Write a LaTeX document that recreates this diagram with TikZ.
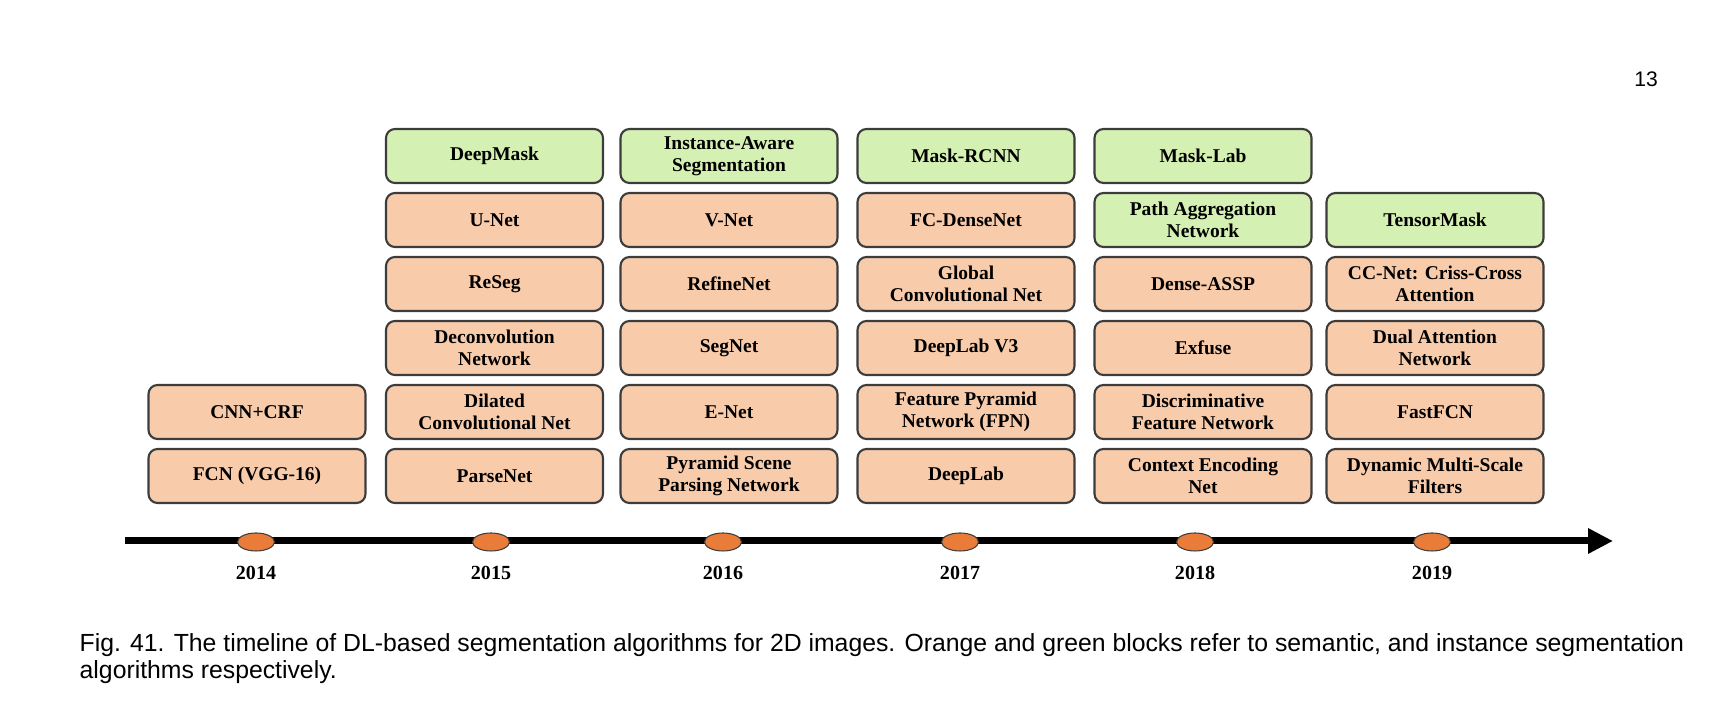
\documentclass[tikz,border=0pt]{standalone}
\usepackage{fontspec}
\setmainfont{Liberation Serif}
\newfontfamily\capfont{Liberation Sans}
\usetikzlibrary{arrows.meta,shapes.geometric}
\definecolor{semorange}{RGB}{248,203,170}
\definecolor{insgreen}{RGB}{212,240,178}
\definecolor{dotorange}{RGB}{234,124,58}
\definecolor{boxline}{RGB}{60,60,60}
\begin{document}
\begin{tikzpicture}[
	algo/.style={rectangle,rounded corners=0.09cm,draw=boxline,line width=0.6pt,minimum width=2.17cm,minimum height=0.54cm,inner sep=0pt,align=center,font=\fontsize{5.55}{6.15}\selectfont\bfseries},
	sem/.style={algo,fill=semorange},
	ins/.style={algo,fill=insgreen},
	yeardot/.style={ellipse,fill=dotorange,draw=boxline,line width=0.3pt,inner sep=0pt,minimum width=0.37cm,minimum height=0.18cm},
	every label/.style={inner sep=0pt,font=\fontsize{5.7}{6.5}\selectfont\bfseries},
	label distance=0.14cm]
	\useasboundingbox (0,0) rectangle (17.30,7.14);
	\node[font=\capfont\fontsize{6}{7}\selectfont,inner sep=0pt](page) at (16.46,6.345){13};

	\node[sem](fcn) at (2.57,2.38){FCN (VGG-16)};
	\node[sem](cnncrf) at (2.57,3.02){CNN+CRF};

	\node[sem](parsenet) at (4.945,2.38){ParseNet};
	\node[sem](dilated) at (4.945,3.02){Dilated\\Convolutional Net};
	\node[sem](deconv) at (4.945,3.66){Deconvolution\\Network};
	\node[sem](reseg) at (4.945,4.30){ReSeg};
	\node[sem](unet) at (4.945,4.94){U-Net};
	\node[ins](deepmask) at (4.945,5.58){DeepMask};

	\node[sem](pspnet) at (7.29,2.38){Pyramid Scene\\Parsing Network};
	\node[sem](enet) at (7.29,3.02){E-Net};
	\node[sem](segnet) at (7.29,3.66){SegNet};
	\node[sem](refinenet) at (7.29,4.30){RefineNet};
	\node[sem](vnet) at (7.29,4.94){V-Net};
	\node[ins](instaware) at (7.29,5.58){Instance-Aware\\Segmentation};

	\node[sem](deeplab) at (9.66,2.38){DeepLab};
	\node[sem](fpn) at (9.66,3.02){Feature Pyramid\\Network (FPN)};
	\node[sem](deeplabv3) at (9.66,3.66){DeepLab V3};
	\node[sem](gcn) at (9.66,4.30){Global\\Convolutional Net};
	\node[sem](fcdense) at (9.66,4.94){FC-DenseNet};
	\node[ins](maskrcnn) at (9.66,5.58){Mask-RCNN};

	\node[sem](encnet) at (12.03,2.38){Context Encoding\\Net};
	\node[sem](dfn) at (12.03,3.02){Discriminative\\Feature Network};
	\node[sem](exfuse) at (12.03,3.66){Exfuse};
	\node[sem](denseassp) at (12.03,4.30){Dense-ASSP};
	\node[ins](panet) at (12.03,4.94){Path Aggregation\\Network};
	\node[ins](masklab) at (12.03,5.58){Mask-Lab};

	\node[sem](dmnet) at (14.35,2.38){Dynamic Multi-Scale\\Filters};
	\node[sem](fastfcn) at (14.35,3.02){FastFCN};
	\node[sem](danet) at (14.35,3.66){Dual Attention\\Network};
	\node[sem](ccnet) at (14.35,4.30){CC-Net: Criss-Cross\\Attention};
	\node[ins](tensormask) at (14.35,4.94){TensorMask};

	\coordinate(start) at (1.25,1.73);
	\coordinate(end) at (16.13,1.73);
	\draw[black,line width=0.07cm,-{Triangle[length=0.25cm,width=0.24cm]}](start)--(end);

	\node[yeardot,label=below:{2014}](y14) at (2.56,1.72){};
	\node[yeardot,label=below:{2015}](y15) at (4.91,1.72){};
	\node[yeardot,label=below:{2016}](y16) at (7.23,1.72){};
	\node[yeardot,label=below:{2017}](y17) at (9.60,1.72){};
	\node[yeardot,label=below:{2018}](y18) at (11.95,1.72){};
	\node[yeardot,label=below:{2019}](y19) at (14.32,1.72){};

	\node[anchor=base west,inner sep=0pt,align=left,font=\capfont\fontsize{7.05}{7.8}\selectfont](caption) at (0.79,0.35){Fig. 41. The timeline of DL-based segmentation algorithms for 2D images. Orange and green blocks refer to semantic, and instance segmentation\\algorithms respectively.};
\end{tikzpicture}
\end{document}
